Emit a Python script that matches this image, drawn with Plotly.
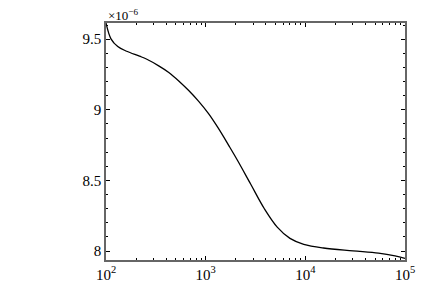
import plotly.graph_objects as go

# data (y in units of 1e-6)
log_x = [2.0, 2.05, 2.118, 2.207, 2.336, 2.405, 2.533, 2.63, 2.730, 2.83, 2.928, 3.027, 3.125, 3.234,
         3.323, 3.451, 3.589, 3.718, 3.846, 3.984, 4.182, 4.478, 4.734, 4.90, 5.0]
y_vals = [9.615, 9.503, 9.448, 9.415, 9.380, 9.360, 9.310, 9.265, 9.205, 9.137, 9.062, 8.975, 8.872, 8.745,
          8.638, 8.475, 8.300, 8.170, 8.090, 8.048, 8.022, 8.002, 7.986, 7.966, 7.948]
x_vals = [10 ** v for v in log_x]

x_tickvals = [1e2, 1e3, 1e4, 1e5]
x_ticktext = ["10<sup>2</sup>", "10<sup>3</sup>", "10<sup>4</sup>", "10<sup>5</sup>"]
y_tickvals = [8, 8.5, 9, 9.5]
y_ticktext = ["8", "8.5", "9", "9.5"]

font = "Liberation Serif"

fig = go.Figure()
fig.add_trace(go.Scatter(x=x_vals, y=y_vals, mode="lines",
                         line=dict(color="black", width=1.3, shape="spline", smoothing=1.0),
                         showlegend=False))

axis_common = dict(
    showgrid=False, zeroline=False, showline=True, linecolor="#666666", linewidth=1.5,
    mirror="allticks", ticks="inside", tickcolor="black", ticklen=4, tickwidth=1,
    tickfont=dict(family=font, size=15, color="black"),
)

fig.update_xaxes(type="log", range=[2, 5], tickvals=x_tickvals, ticktext=x_ticktext,
                 minor=dict(ticks="inside", ticklen=2.5, tickcolor="black", tickwidth=1,
                            tickvals=[k * 10 ** d for d in range(2, 5) for k in range(2, 10)]),
                 **axis_common)
fig.update_yaxes(range=[7.937, 9.615], tickvals=y_tickvals, ticktext=y_ticktext,
                 minor=dict(ticks="inside", ticklen=2.5, tickcolor="black", tickwidth=1,
                            tickvals=[round(8 + 0.1 * i, 2) for i in range(0, 17)]),
                 **axis_common)

fig.add_annotation(text="×10<sup>−6</sup>", xref="paper", yref="paper", x=0, y=1, xanchor="left",
                   yanchor="bottom", showarrow=False, font=dict(family=font, size=13, color="black"),
                   yshift=-2)

fig.update_layout(width=427, height=295, margin=dict(l=106, r=17, t=23, b=32),
                  paper_bgcolor="white", plot_bgcolor="white")

fig.write_html("out.html")
